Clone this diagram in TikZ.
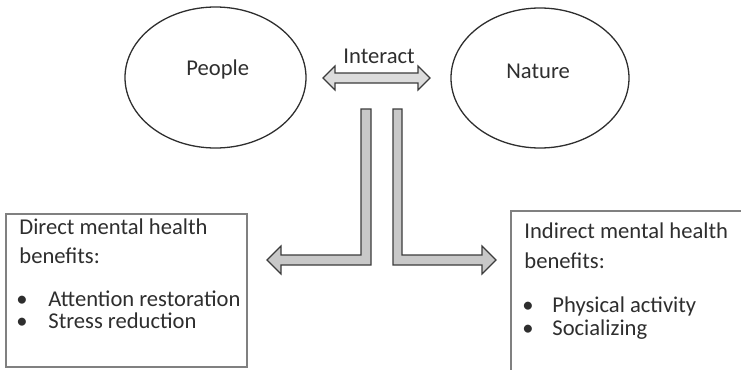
\documentclass[tikz,border=0pt]{standalone}
\usepackage{fontspec}
\setmainfont{Carlito}
\usepackage{tikz}
\usetikzlibrary{shapes.geometric}
\definecolor{my_ink}{HTML}{2E2E2E}
\definecolor{my_boxline}{HTML}{808080}
\definecolor{my_arrowfill}{HTML}{C8C8C8}
\definecolor{my_arrowfilllight}{HTML}{DCDCDC}
\definecolor{my_arrowline}{HTML}{3C3C3C}

\begin{document}
\begin{tikzpicture}[
    x=0.5pt, y=-0.5pt,
    line cap=round,
    line join=miter,
    every node/.style={font=\fontsize{11.3}{14}\selectfont, text=my_ink},
    bubble/.style={ellipse, draw=my_ink, line width=0.65pt, inner sep=0pt},
    blockarrow/.style={draw=my_arrowline, fill=my_arrowfill, line width=0.55pt},
    listbox/.style={draw=my_boxline, line width=0.55pt},
    boxline/.style={anchor=base west, inner sep=0pt}
]

% Page frame
\useasboundingbox (0,0) rectangle (741,370);
\clip (0,0) rectangle (741,370);

% The two ellipses
\node[bubble, minimum width=90.5pt, minimum height=70.5pt] (people) at (215.5,77.5) {};
\node[boxline] (people-text) at (186,75) {People};
\node[bubble, minimum width=89pt, minimum height=70pt] (nature) at (540,78) {};
\node[boxline] (nature-text) at (506,78) {Nature};

% Interaction arrow between them
\draw[blockarrow, fill=my_arrowfilllight]
    (323,78) -- (335,66) -- (335,73) -- (418,73) -- (418,66) --
    (430,78) -- (418,90) -- (418,83) -- (335,83) -- (335,90) -- cycle;
\node[boxline] (interact) at (343,63) {Interact};

% Bent arrow to the left box
\draw[blockarrow]
    (361,109) -- (371,109) -- (371,265) -- (281,265) -- (281,274) --
    (267,260) -- (281,246) -- (281,255) -- (361,255) -- cycle;

% Bent arrow to the right box
\draw[blockarrow]
    (393,109) -- (402,109) -- (402,255) -- (482,255) -- (482,246) --
    (496,260) -- (482,274) -- (482,265) -- (393,265) -- cycle;

% Left box: direct benefits
\draw[listbox] (6,214) rectangle (247,367);
\node[boxline] (direct-a) at (19,234) {Direct mental health};
\node[boxline] (direct-b) at (19,263) {benefits:};
\node[anchor=base, inner sep=0pt] (dot-a) at (22,306) {\textbullet};
\node[boxline] (attention) at (48,306) {Attention restoration};
\node[anchor=base, inner sep=0pt] (dot-b) at (22,328) {\textbullet};
\node[boxline] (stress) at (48,328) {Stress reduction};

% Right box: indirect benefits (runs off the page)
\draw[listbox] (511,211) rectangle (760,390);
\node[boxline] (indirect-a) at (524,238) {Indirect mental health};
\node[boxline] (indirect-b) at (524,268) {benefits:};
\node[anchor=base, inner sep=0pt] (dot-c) at (528,312) {\textbullet};
\node[boxline] (physical) at (552,312) {Physical activity};
\node[anchor=base, inner sep=0pt] (dot-d) at (528,335) {\textbullet};
\node[boxline] (social) at (552,335) {Socializing};

\end{tikzpicture}
\end{document}
